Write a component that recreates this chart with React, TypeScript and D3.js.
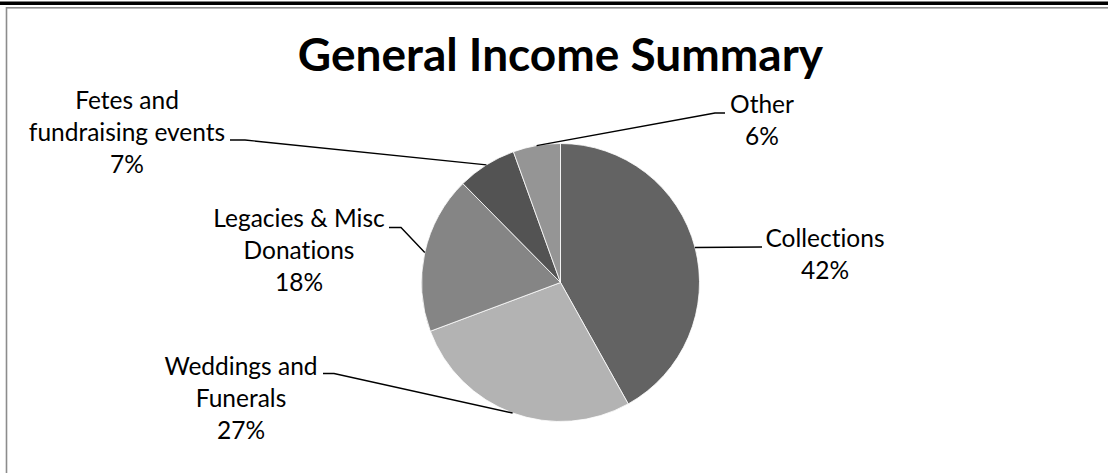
import React from "react";
import * as d3 from "d3";

const categories = [
  "Collections",
  "Weddings and Funerals",
  "Legacies & Misc Donations",
  "Fetes and fundraising events",
  "Other",
];
const values = [41.9, 27.4, 18.3, 6.9, 5.5];
const sliceColors = ["#636363", "#b3b3b3", "#858585", "#535353", "#959595"];
const labelLines = [
  ["Collections"],
  ["Weddings and", "Funerals"],
  ["Legacies & Misc", "Donations"],
  ["Fetes and", "fundraising events"],
  ["Other"],
];
const title = "General Income Summary";

// layout: centre x of text block, baseline of first line, horizontal tick of the leader line
const labelLayout = [
  { x: 825, y: 247, lineY: 247, tickX0: 762, tickX1: 762 },
  { x: 241, y: 375, lineY: 373.5, tickX0: 323, tickX1: 334 },
  { x: 299, y: 227, lineY: 227.5, tickX0: 389, tickX1: 401 },
  { x: 127, y: 109, lineY: 140, tickX0: 230, tickX1: 245 },
  { x: 762, y: 113, lineY: 113, tickX0: 725, tickX1: 715 },
];

const W = 1108;
const H = 473;
const cx = 560.5;
const cy = 282.5;
const R = 139;
const FONT = "Lato, 'Open Sans', sans-serif";
const LABEL_SIZE = 24.5;
const LINE_H = 32;

export default function App() {
  const pie = d3
    .pie<number>()
    .sort(null)
    .value((d) => d)
    .startAngle(0)
    .endAngle(2 * Math.PI);
  const arcs = pie(values);
  const arc = d3.arc<d3.PieArcDatum<number>>().innerRadius(0).outerRadius(R);
  const total = d3.sum(values);

  return (
    <div style={{ position: "fixed", left: 0, top: 0, width: W, height: H, background: "#fff" }}>
      <svg width={W} height={H} style={{ display: "block", fontVariantLigatures: "none" }}>
        <rect x={0} y={1.5} width={W} height={3.5} fill="#000" />
        <rect x={6.5} y={7.8} width={W + 20} height={H + 20} fill="none" stroke="#8c8c8c" strokeWidth={1.6} />
        <text
          x={cx}
          y={71}
          textAnchor="middle"
          fontFamily={FONT}
          fontWeight={700}
          fontSize={46}
          fill="#000"
        >
          {title}
        </text>
        <g transform={`translate(${cx},${cy})`}>
          {arcs.map((a, i) => (
            <path key={categories[i]} d={arc(a) || ""} fill={sliceColors[i]} stroke="#fff" strokeWidth={0.8} />
          ))}
        </g>
        {arcs.map((a, i) => {
          const mid = (a.startAngle + a.endAngle) / 2;
          const ax = cx + R * Math.sin(mid);
          const ay = cy - R * Math.cos(mid);
          const L = labelLayout[i];
          const pts: [number, number][] = [
            [ax, ay],
            [L.tickX1, L.lineY],
            [L.tickX0, L.lineY],
          ];
          const line = d3.line()(pts) || "";
          const pct = Math.round((values[i] / total) * 100) + "%";
          const lines = [...labelLines[i], pct];
          return (
            <g key={"lab" + i}>
              <path d={line} fill="none" stroke="#000" strokeWidth={1.4} />
              <text textAnchor="middle" fontFamily={FONT} fontSize={LABEL_SIZE} fill="#000">
                {lines.map((t, k) => (
                  <tspan key={k} x={L.x} y={L.y + k * LINE_H}>
                    {t}
                  </tspan>
                ))}
              </text>
            </g>
          );
        })}
      </svg>
    </div>
  );
}
